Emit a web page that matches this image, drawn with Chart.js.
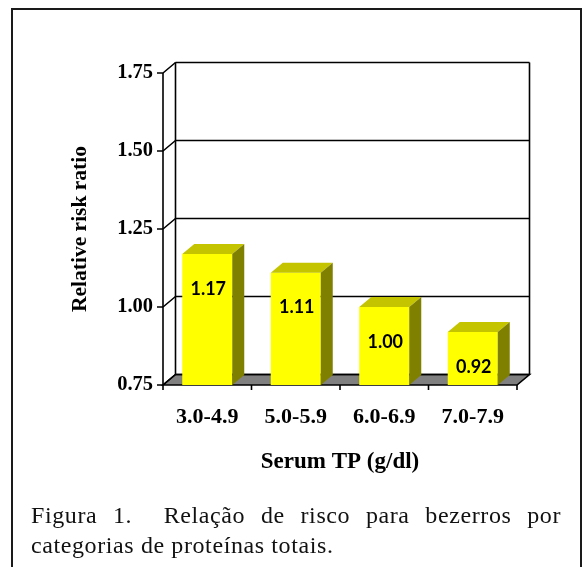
<!DOCTYPE html>
<html>
<head>
<meta charset="utf-8">
<script src="https://cdn.jsdelivr.net/npm/chart.js@4.4.1/dist/chart.umd.min.js"></script>
<style>
  html, body { margin: 0; padding: 0; background: #fff; overflow: hidden; }
  body { width: 584px; height: 567px; position: relative; }
  #frame { position: absolute; left: 11px; top: 8px; width: 571px; height: 620px; box-sizing: border-box; border: 2px solid #1a1a1a; }
  #wrap { position: absolute; left: 0; top: 0; width: 584px; height: 567px; }
  .cap { position: absolute; left: 31px; width: 530px; font-family: "Liberation Serif", serif; font-size: 24px; letter-spacing: 0.6px; line-height: 30px; color: #111; }
  #cap1 { top: 500px; white-space: pre-wrap; text-align: justify; text-align-last: justify; }
  #cap2 { top: 530px; white-space: nowrap; }
</style>
</head>
<body>
<div id="frame"></div>
<div id="wrap"><canvas id="c" width="584" height="567"></canvas></div>
<div class="cap" id="cap1">Figura 1.  Relação de risco para bezerros por</div>
<div class="cap" id="cap2">categorias de proteínas totais.</div>
<script>
const categories = ['3.0-4.9', '5.0-5.9', '6.0-6.9', '7.0-7.9'];
const riskRatio = [1.17, 1.11, 1.00, 0.92];
const valueLabels = ['1.17', '1.11', '1.00', '0.92'];
const yTickValues = [0.75, 1.00, 1.25, 1.50, 1.75];
const yTickLabels = ['0.75', '1.00', '1.25', '1.50', '1.75'];
const yAxisTitle = 'Relative risk ratio';
const xAxisTitle = 'Serum TP (g/dl)';

const DEPTH = { dx: 12.5, dy: -10.5 };
const BAR_DEPTH = { dx: 12, dy: -10 };
const LINE = '#000';

const threeD = {
  id: 'threeD',
  beforeDatasetsDraw(chart) {
    const ctx = chart.ctx;
    const { left, right, top, bottom } = chart.chartArea;
    const ys = chart.scales.y, xs = chart.scales.x;
    const { dx, dy } = DEPTH;
    ctx.save();
    ctx.lineWidth = 1.6;
    ctx.strokeStyle = LINE;
    // floor
    ctx.beginPath();
    ctx.moveTo(left, bottom);
    ctx.lineTo(right, bottom);
    ctx.lineTo(right + dx, bottom + dy);
    ctx.lineTo(left + dx, bottom + dy);
    ctx.closePath();
    ctx.fillStyle = '#808080';
    ctx.fill();
    ctx.stroke();
    // back wall gridlines + side wall diagonals + y ticks
    yTickValues.forEach(v => {
      const y = ys.getPixelForValue(v);
      ctx.beginPath();
      ctx.moveTo(left + dx, y + dy);
      ctx.lineTo(right + dx, y + dy);
      ctx.moveTo(left, y);
      ctx.lineTo(left + dx, y + dy);
      ctx.moveTo(left - 6, y);
      ctx.lineTo(left, y);
      ctx.stroke();
    });
    // back wall edges
    ctx.beginPath();
    ctx.moveTo(left + dx, top + dy);
    ctx.lineTo(left + dx, bottom + dy);
    ctx.moveTo(right + dx, top + dy);
    ctx.lineTo(right + dx, bottom + dy);
    // front y axis
    ctx.moveTo(left, top);
    ctx.lineTo(left, bottom + 5);
    ctx.stroke();
    // x category boundary ticks
    const n = categories.length;
    ctx.beginPath();
    for (let i = 1; i <= n; i++) {
      const x = i < n ? (xs.getPixelForValue(i - 1) + xs.getPixelForValue(i)) / 2 : right;
      ctx.moveTo(x, bottom);
      ctx.lineTo(x, bottom + 5);
    }
    ctx.stroke();
    ctx.restore();
  },
  afterDatasetsDraw(chart) {
    const ctx = chart.ctx;
    const meta = chart.getDatasetMeta(0);
    const ys = chart.scales.y;
    const basePx = ys.getPixelForValue(ys.min);
    const { dx, dy } = BAR_DEPTH;
    ctx.save();
    meta.data.forEach((bar, i) => {
      const p = bar.getProps(['x', 'y', 'width'], true);
      const l = p.x - p.width / 2, r = p.x + p.width / 2;
      // top face
      ctx.beginPath();
      ctx.moveTo(l, p.y);
      ctx.lineTo(r, p.y);
      ctx.lineTo(r + dx, p.y + dy);
      ctx.lineTo(l + dx, p.y + dy);
      ctx.closePath();
      ctx.fillStyle = '#C4C400';
      ctx.fill();
      // side face
      ctx.beginPath();
      ctx.moveTo(r, p.y);
      ctx.lineTo(r + dx, p.y + dy);
      ctx.lineTo(r + dx, basePx + dy);
      ctx.lineTo(r, basePx);
      ctx.closePath();
      ctx.fillStyle = '#808000';
      ctx.fill();
      // value label
      ctx.fillStyle = '#000';
      ctx.font = 'bold 18px Lato, "Open Sans", sans-serif';
      ctx.textAlign = 'center';
      ctx.textBaseline = 'middle';
      ctx.fillText(valueLabels[i], p.x + 1, p.y + 35);
    });
    ctx.restore();
  }
};

new Chart(document.getElementById('c'), {
  type: 'bar',
  data: {
    labels: categories,
    datasets: [{
      data: riskRatio,
      backgroundColor: '#FFFF00',
      borderWidth: 0,
      categoryPercentage: 1.0,
      barPercentage: 0.565
    }]
  },
  options: {
    responsive: false,
    animation: false,
    devicePixelRatio: 1,
    layout: { padding: { left: 0, right: 67, top: 73, bottom: 0 } },
    plugins: { legend: { display: false }, tooltip: { enabled: false } },
    scales: {
      x: {
        grid: { display: false, drawTicks: false },
        border: { display: false },
        ticks: {
          color: '#000',
          font: { family: '"Liberation Serif", serif', size: 22, weight: 'bold' },
          padding: 19,
          maxRotation: 0
        },
        title: {
          display: true,
          text: xAxisTitle,
          color: '#000',
          font: { family: '"Liberation Serif", serif', size: 23, weight: 'bold' },
          padding: { top: 0, bottom: 91 }
        },
        afterFit(scale) { scale.height = 182; }
      },
      y: {
        min: 0.75,
        max: 1.75,
        grid: { display: false, drawTicks: false },
        border: { display: false },
        afterBuildTicks(scale) { scale.ticks = yTickValues.map(v => ({ value: v })); },
        ticks: {
          color: '#000',
          font: { family: '"Liberation Serif", serif', size: 20.5, weight: 'bold' },
          padding: 10,
          callback: (v, i) => yTickLabels[i]
        },
        title: {
          display: true,
          text: yAxisTitle,
          color: '#000',
          font: { family: '"Liberation Serif", serif', size: 21.5, weight: 'bold' },
          padding: { top: 68, bottom: 0 }
        },
        afterFit(scale) { scale.width = 163; }
      }
    }
  },
  plugins: [threeD]
});
</script>
</body>
</html>
